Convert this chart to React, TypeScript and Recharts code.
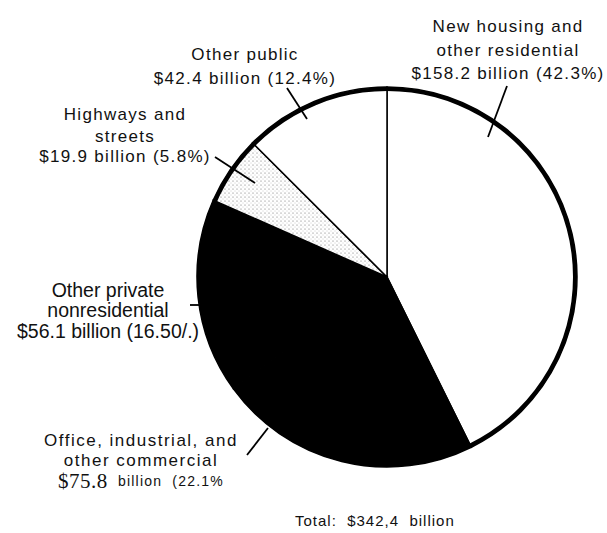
import { PieChart, Pie, Cell } from 'recharts';

// construction spending by type (share of total, %)
const categories = [
  'New housing and other residential',
  'Office, industrial, and other commercial',
  'Other private nonresidential',
  'Highways and streets',
  'Other public',
];
const shares = [42.3, 22.1, 16.5, 5.8, 12.4];
const billions = ['$158.2', '$75.8', '$56.1', '$19.9', '$42.4'];
const shareLabels = ['(42.3%)', '(22.1%', '(16.50/.)', '(5.8%)', '(12.4%)'];
const totalLabel = 'Total:  $342,4  billion';

const FILLS = ['#ffffff', '#000000', '#000000', 'url(#dots)', '#ffffff'];

const CX = 387;
const CY = 277;
const R = 190;

const SANS = '"Liberation Sans", Arial, Helvetica, sans-serif';
const SERIF = '"Liberation Serif", "Times New Roman", serif';

// label placement, relative to the pie centre
const LABEL_LAYOUT = [
  { x: 121, ys: [-251, -227, -204], lines: ['New housing and', 'other residential'], line: [120, -191, 101, -140], size: 17, ls: 1.3 },
  { x: -246, ys: [163, 183, 204], lines: ['Office, industrial, and', 'other commercial'], line: [-140, 178, -119, 151], size: 17, ls: 1.5 },
  { x: -279, ys: [13, 33, 54], lines: ['Other private', 'nonresidential'], line: [-197, 28, -187, 28], size: 19.5, ls: 0 },
  { x: -262, ys: [-163, -141, -121], lines: ['Highways and', 'streets'], line: [-172, -120, -132, -94], size: 17, ls: 1.3 },
  { x: -142, ys: [-223, -199], lines: ['Other public'], line: [-100, -189, -80, -158], size: 17, ls: 1.3 },
];

const chartData = categories.map((name, i) => ({ name, value: shares[i] }));
const ring = [{ name: 'outline', value: 1 }];

function renderLabel(props: any) {
  const { cx, cy, index } = props;
  const l = LABEL_LAYOUT[index];
  if (!l) return null;
  const last = l.ys[l.ys.length - 1];
  return (
    <g key={`lbl-${index}`}>
      <line
        x1={cx + l.line[0]}
        y1={cy + l.line[1]}
        x2={cx + l.line[2]}
        y2={cy + l.line[3]}
        stroke="#000"
        strokeWidth={1.8}
      />
      {l.lines.map((t, j) => (
        <text
          key={j}
          x={cx + l.x}
          y={cy + l.ys[j]}
          textAnchor="middle"
          dominantBaseline="central"
          fontFamily={SANS}
          fontSize={l.size}
          letterSpacing={l.ls}
          fill="#111"
        >
          {t}
        </text>
      ))}
      {index === 1 ? (
        <text x={cx + l.x} y={cy + last} textAnchor="middle" dominantBaseline="central" fill="#111" style={{ whiteSpace: 'pre' }}>
          <tspan fontFamily={SERIF} fontSize={21} letterSpacing={0.5}>{billions[index]}</tspan>
          <tspan fontFamily={SANS} fontSize={14} letterSpacing={1.2}>{'  billion  ' + shareLabels[index]}</tspan>
        </text>
      ) : (
        <text
          x={cx + l.x}
          y={cy + last}
          textAnchor="middle"
          dominantBaseline="central"
          fontFamily={SANS}
          fontSize={l.size}
          letterSpacing={l.ls}
          fill="#111"
        >
          {`${billions[index]} billion ${shareLabels[index]}`}
        </text>
      )}
    </g>
  );
}

export default function App() {
  return (
    <div style={{ position: 'absolute', left: 0, top: 0, width: 607, height: 533, background: '#fff' }}>
      <svg width={0} height={0} style={{ position: 'absolute' }}>
        <defs>
          <pattern id="dots" width={4} height={4} patternUnits="userSpaceOnUse">
            <rect width={4} height={4} fill="#ffffff" />
            <circle cx={1} cy={1} r={0.55} fill="#666" />
            <circle cx={3} cy={3} r={0.45} fill="#999" />
          </pattern>
        </defs>
      </svg>
      <PieChart width={607} height={533} margin={{ top: 0, right: 0, bottom: 0, left: 0 }}>
        <Pie
          data={chartData}
          dataKey="value"
          nameKey="name"
          cx={CX}
          cy={CY}
          outerRadius={R}
          startAngle={90}
          endAngle={-270}
          stroke="#000"
          strokeWidth={1.5}
          label={renderLabel}
          labelLine={false}
          isAnimationActive={false}
        >
          {chartData.map((_, i) => (
            <Cell key={`cell-${i}`} fill={FILLS[i]} />
          ))}
        </Pie>
        <Pie
          data={ring}
          dataKey="value"
          cx={CX}
          cy={CY}
          innerRadius={R - 4}
          outerRadius={R}
          startAngle={90}
          endAngle={-270}
          fill="#000"
          stroke="none"
          isAnimationActive={false}
        />
      </PieChart>
      <svg width={607} height={533} style={{ position: 'absolute', left: 0, top: 0, pointerEvents: 'none' }}>
        <text x={295} y={520} dominantBaseline="central" fontFamily={SANS} fontSize={15} letterSpacing={1} fill="#111" style={{ whiteSpace: 'pre' }}>
          {totalLabel}
        </text>
      </svg>
    </div>
  );
}
